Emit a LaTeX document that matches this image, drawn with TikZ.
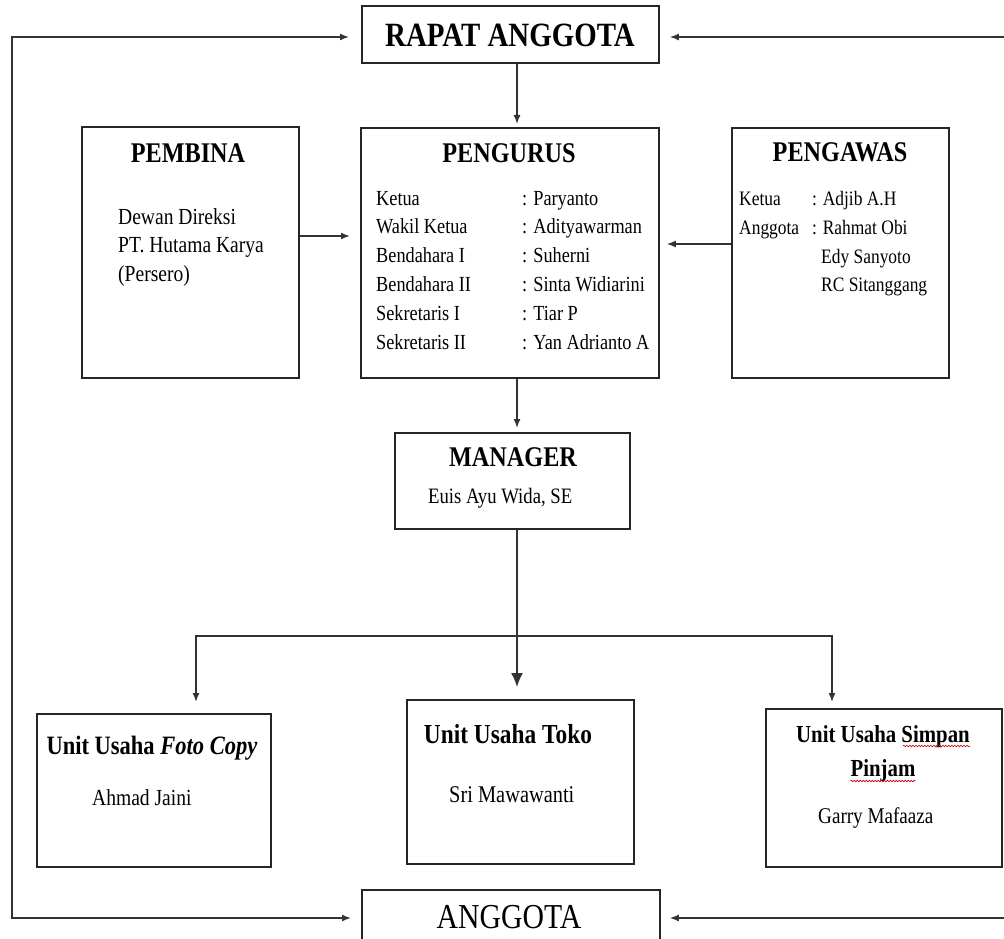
\documentclass[tikz,border=0pt]{standalone}
\usepackage{fontspec}
\setmainfont[FakeStretch=0.85]{Liberation Serif}
\usetikzlibrary{arrows.meta,calc,decorations.pathmorphing}
\newcommand{\fsz}[1]{\fontsize{#1}{#1}\selectfont}

\begin{document}
\begin{tikzpicture}[x=1pt,y=-1pt,
  box/.style={draw=black!85, line width=1.8pt, inner sep=0pt, anchor=north west},
  txt/.style={inner sep=0pt, anchor=base},
  ltxt/.style={inner sep=0pt, anchor=base west},
  ttl/.style={txt, font=\fsz{28.5}\bfseries},
  conn/.style={draw=black!80, line width=1.5pt},
  tip/.tip={Latex[length=9pt,width=7pt]},
  arr/.style={conn, -tip},
  wavy/.style={draw=red!80!black, line width=0.6pt, decorate,
    decoration={snake, amplitude=0.8pt, segment length=3pt}}
]
\useasboundingbox (0,0) rectangle (1004,939);
\fill[white] (0,0) rectangle (1004,939);

% ---------- boxes ----------
\node[box, minimum width=297pt, minimum height=57pt]  (rapat)    at (361,5)   {};
\node[box, minimum width=217pt, minimum height=251pt] (pembina)  at (81,126)  {};
\node[box, minimum width=298pt, minimum height=250pt] (pengurus) at (360,127) {};
\node[box, minimum width=217pt, minimum height=250pt] (pengawas) at (731,127) {};
\node[box, minimum width=235pt, minimum height=96pt]  (manager)  at (394,432) {};
\node[box, minimum width=234pt, minimum height=153pt] (fotocopy) at (36,713)  {};
\node[box, minimum width=227pt, minimum height=164pt] (toko)     at (406,699) {};
\node[box, minimum width=236pt, minimum height=158pt] (simpan)   at (765,708) {};
\node[box, minimum width=298pt, minimum height=58pt]  (anggota)  at (361,889) {};

% ---------- texts ----------
\node[txt, font=\fsz{34}\bfseries] (tRapat) at (510,47) {RAPAT ANGGOTA};
\node[txt, font=\fsz{35}] (tAnggota) at (509,928) {ANGGOTA};

\node[ttl] (tPembina)  at (188,162) {PEMBINA};
\node[ttl] (tPengurus) at (509,162) {PENGURUS};
\node[ttl] (tPengawas) at (840,161) {PENGAWAS};

\foreach \line [count=\i] in {Dewan Direksi, PT. Hutama Karya, (Persero)}
  \node[ltxt, font=\fsz{23}] (pb\i) at (118,{224+28.5*(\i-1)}) {\line};

\foreach \role/\name [count=\i] in {Ketua/Paryanto, Wakil Ketua/Adityawarman,
    Bendahara I/Suherni, Bendahara II/Sinta Widiarini,
    Sekretaris I/Tiar P, Sekretaris II/Yan Adrianto A} {
  \node[ltxt, font=\fsz{21.5}] (pgL\i) at (376,{205+28.8*(\i-1)}) {\role};
  \node[ltxt, font=\fsz{21.5}] (pgR\i) at (522,{205+28.8*(\i-1)}) {: \name};
}

\node[ltxt, font=\fsz{20.5}] (pwL1) at (739,205) {Ketua};
\node[ltxt, font=\fsz{20.5}] (pwR1) at (812,205) {: Adjib A.H};
\node[ltxt, font=\fsz{20.5}] (pwL2) at (739,234) {Anggota};
\node[ltxt, font=\fsz{20.5}] (pwR2) at (812,234) {: Rahmat Obi};
\node[ltxt, font=\fsz{20.5}] (pwR3) at (821,263) {Edy Sanyoto};
\node[ltxt, font=\fsz{20.5}] (pwR4) at (821,291) {RC Sitanggang};

\node[ttl] (tManager) at (513,466) {MANAGER};
\node[ltxt, font=\fsz{22}] (mName) at (428,503) {Euis Ayu Wida, SE};

\node[txt, font=\fsz{26.5}\bfseries] (tFoto) at (152,754) {Unit Usaha \textit{Foto Copy}};
\node[ltxt, font=\fsz{23}] (fName) at (92,805) {Ahmad Jaini};

\node[txt, font=\fsz{27.5}\bfseries] (tToko) at (508,743) {Unit Usaha Toko};
\node[ltxt, font=\fsz{24}] (kName) at (449,802) {Sri Mawawanti};

\node[txt, font=\fsz{24.5}\bfseries] (tSimpanA) at (883,742) {Unit Usaha Simpan};
\node[txt, font=\fsz{24.5}\bfseries] (tSimpanB) at (883,776) {Pinjam};
\node[ltxt, font=\fsz{22.5}] (sName) at (818,823) {Garry Mafaaza};

% spell-check underlines
\path[wavy] ($(tSimpanA.base east)+(-67,4)$) -- ($(tSimpanA.base east)+(0,4)$);
\path[wavy] ($(tSimpanB.base west)+(0,5)$) -- ($(tSimpanB.base east)+(0,5)$);

% ---------- connectors ----------
\coordinate (spine) at (517,0);
\coordinate (loopT) at (12,37);
\coordinate (loopB) at (12,918);
\coordinate (edgeT) at (1004,37);
\coordinate (edgeB) at (1004,918);
\coordinate (rowA) at (0,236);
\coordinate (rowB) at (0,244);
\coordinate (brL) at (196,636);
\coordinate (brR) at (832,636);

\draw[conn, tip-tip, shorten <=12pt, shorten >=10pt]
  (rapat.west |- loopT) -- (loopT) -- (loopB) -- (anggota.west |- loopB);
\draw[arr, shorten >=10pt] (edgeT) -- (rapat.east |- edgeT);
\draw[arr, shorten >=9pt] (edgeB) -- (anggota.east |- edgeB);

\draw[arr, shorten >=3pt] (rapat.south -| spine) -- (pengurus.north -| spine);
\draw[arr, shorten >=10pt] (pembina.east |- rowA) -- (pengurus.west |- rowA);
\draw[arr, shorten >=7pt] (pengawas.west |- rowB) -- (pengurus.east |- rowB);
\draw[arr, shorten >=4pt] (pengurus.south -| spine) -- (manager.north -| spine);

\draw[conn, -{Latex[length=14pt,width=12pt]}, shorten >=12pt]
  (manager.south -| spine) -- (toko.north -| spine);
\draw[conn, tip-tip, shorten <=11pt, shorten >=6pt]
  (fotocopy.north -| brL) -- (brL) -- (brR) -- (simpan.north -| brR);
\end{tikzpicture}
\end{document}
